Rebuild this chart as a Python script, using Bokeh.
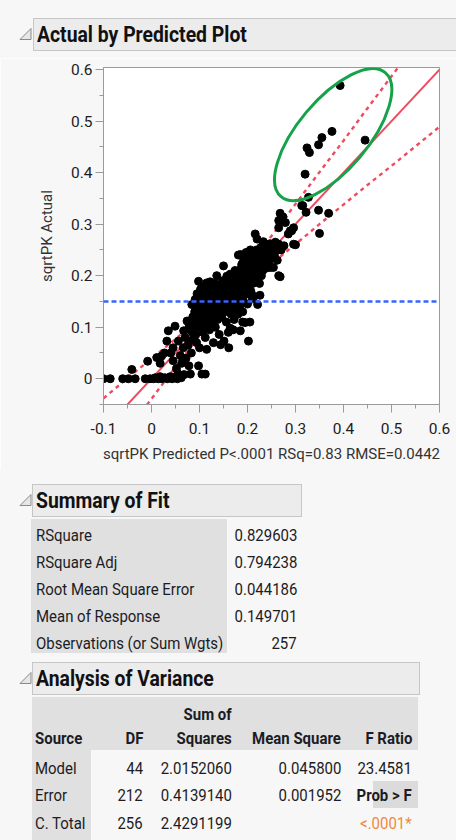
import html
from bokeh.plotting import figure
from bokeh.layouts import column
from bokeh.models import Range1d, FixedTicker, Span, Div
from bokeh.embed import file_html
from bokeh.resources import INLINE

# ---------------- data ----------------
PRED = [
    -0.100, -0.086, -0.060, -0.048, -0.034, -0.041, -0.013, -0.008, -0.003, 0.004,
    0.008, 0.014, 0.018, 0.022, 0.028, 0.033, 0.039, 0.043, 0.049, 0.054,
    0.058, 0.062, 0.068, 0.081, 0.105, 0.112, 0.098,
    0.011, 0.021, 0.018, 0.027, 0.032, 0.035, 0.049, 0.045, 0.052, 0.056,
    0.060, 0.063, 0.066, 0.067, 0.070, 0.072, 0.074, 0.076, 0.078, 0.080,
    0.083, 0.085,
    0.084, 0.086, 0.088, 0.090, 0.091, 0.092, 0.094, 0.096, 0.098, 0.099,
    0.100, 0.102, 0.103, 0.104, 0.106, 0.107, 0.108, 0.110, 0.111, 0.112,
    0.113, 0.114, 0.115, 0.115, 0.116, 0.118, 0.119, 0.120, 0.121, 0.122,
    0.124, 0.125, 0.126, 0.127, 0.128, 0.129, 0.130, 0.094, 0.100,
    0.131, 0.132, 0.133, 0.134, 0.135, 0.136, 0.137, 0.138, 0.139, 0.140,
    0.141, 0.142, 0.143, 0.144, 0.145, 0.146, 0.147, 0.148, 0.149, 0.150,
    0.151, 0.151, 0.152, 0.153, 0.154, 0.155, 0.156, 0.157, 0.158, 0.159,
    0.160, 0.161, 0.162, 0.163, 0.164, 0.164, 0.165, 0.166, 0.167, 0.168,
    0.169, 0.170, 0.171, 0.172, 0.173, 0.174, 0.175, 0.176, 0.177, 0.178,
    0.179,
    0.180, 0.181, 0.182, 0.183, 0.184, 0.185, 0.185, 0.186, 0.187, 0.188,
    0.189, 0.190, 0.191, 0.192, 0.193, 0.194, 0.195, 0.196, 0.197, 0.198,
    0.199, 0.200, 0.201, 0.202, 0.203, 0.204, 0.205, 0.206, 0.207, 0.208,
    0.209, 0.210, 0.211, 0.212, 0.213, 0.214, 0.215, 0.216, 0.217, 0.218,
    0.219, 0.220, 0.221, 0.222, 0.223, 0.224, 0.225, 0.226, 0.227, 0.228,
    0.229,
    0.230, 0.232, 0.233, 0.235, 0.237, 0.239, 0.240, 0.242, 0.244, 0.246,
    0.247, 0.248, 0.250, 0.252, 0.254, 0.256, 0.258, 0.260, 0.262, 0.265,
    0.265, 0.265, 0.265, 0.268, 0.268, 0.270, 0.274, 0.276, 0.279, 0.285,
    0.289, 0.292, 0.296, 0.296, 0.300,
    0.313, 0.315, 0.322, 0.327, 0.348, 0.369, 0.350, 0.320, 0.324, 0.329,
    0.348, 0.355, 0.376, 0.393, 0.445,
    0.078, 0.082, 0.085, 0.095, 0.105, 0.112, 0.122, 0.130, 0.160, 0.170,
    0.180, 0.190, 0.200, 0.210, 0.190, 0.205, 0.045, 0.040, 0.055, 0.065,
]
ACTUAL = [
    0.000, 0.000, 0.000, 0.000, 0.000, 0.018, 0.000, 0.034, 0.000, 0.000,
    0.002, 0.000, 0.004, 0.000, 0.002, 0.000, 0.004, 0.000, 0.003, 0.000,
    0.005, 0.002, 0.008, 0.009, 0.009, 0.009, 0.025,
    0.041, 0.044, 0.030, 0.050, 0.073, 0.093, 0.102, 0.035, 0.020, 0.073,
    0.045, 0.030, 0.060, 0.093, 0.080, 0.040, 0.112, 0.065, 0.025, 0.095,
    0.050, 0.075,
    0.144, 0.120, 0.105, 0.130, 0.154, 0.085, 0.115, 0.140, 0.189, 0.100,
    0.125, 0.173, 0.150, 0.110, 0.135, 0.090, 0.160, 0.120, 0.145, 0.080,
    0.100, 0.130, 0.186, 0.057, 0.165, 0.110, 0.140, 0.155, 0.095, 0.125,
    0.175, 0.145, 0.110, 0.160, 0.135, 0.070, 0.120, 0.070, 0.060,
    0.150, 0.185, 0.100, 0.165, 0.130, 0.200, 0.145, 0.115, 0.170, 0.155,
    0.086, 0.135, 0.180, 0.066, 0.150, 0.120, 0.165, 0.190, 0.140, 0.219,
    0.073, 0.155, 0.175, 0.130, 0.160, 0.145, 0.110, 0.199, 0.170, 0.150,
    0.185, 0.060, 0.140, 0.165, 0.098, 0.203, 0.155, 0.125, 0.180, 0.145,
    0.170, 0.190, 0.160, 0.115, 0.150, 0.210, 0.175, 0.135, 0.165, 0.195,
    0.155,
    0.180, 0.240, 0.160, 0.200, 0.140, 0.093, 0.241, 0.175, 0.215, 0.222,
    0.185, 0.155, 0.200, 0.230, 0.170, 0.210, 0.109, 0.190, 0.245, 0.165,
    0.220, 0.200, 0.180, 0.073, 0.235, 0.210, 0.190, 0.250, 0.170, 0.225,
    0.200, 0.215, 0.185, 0.240, 0.205, 0.160, 0.230, 0.281, 0.195, 0.215,
    0.250, 0.271, 0.144, 0.205, 0.225, 0.240, 0.185, 0.162, 0.220, 0.255,
    0.200,
    0.235, 0.210, 0.266, 0.245, 0.225, 0.255, 0.215, 0.240, 0.260, 0.230,
    0.262, 0.216, 0.245, 0.255, 0.216, 0.240, 0.265, 0.250, 0.230, 0.200,
    0.261, 0.293, 0.307, 0.198, 0.321, 0.250, 0.314, 0.258, 0.303, 0.281,
    0.287, 0.287, 0.261, 0.293, 0.260,
    0.336, 0.336, 0.323, 0.352, 0.327, 0.321, 0.282, 0.397, 0.448, 0.439,
    0.454, 0.468, 0.480, 0.569, 0.463,
    0.100, 0.112, 0.090, 0.165, 0.178, 0.170, 0.188, 0.178, 0.090, 0.095,
    0.125, 0.130, 0.145, 0.155, 0.110, 0.110, 0.060, 0.050, 0.010, 0.040,
]

FIT_X = [-0.1, 0.6]
FIT_Y = [-0.1, 0.6]
MEAN_RESPONSE = 0.149701

CURVE_X = [-0.10, -0.05, 0.00, 0.05, 0.10, 0.15, 0.20, 0.25, 0.30, 0.35,
           0.40, 0.45, 0.50, 0.55, 0.60]
CURVE_UPPER = [-0.038, 0.001, 0.039, 0.077, 0.117, 0.162, 0.217, 0.277, 0.339,
               0.401, 0.462, 0.525, 0.587, 0.649, 0.711]
CURVE_LOWER = [-0.162, -0.101, -0.039, 0.023, 0.083, 0.138, 0.183, 0.223, 0.261,
               0.300, 0.338, 0.376, 0.413, 0.451, 0.489]

X_TICKS = [-0.1, 0.0, 0.1, 0.2, 0.3, 0.4, 0.5, 0.6]
X_TICK_LABELS = ["-0.1", "0", "0.1", "0.2", "0.3", "0.4", "0.5", "0.6"]
X_MINOR = [-0.05, 0.05, 0.15, 0.25, 0.35, 0.45, 0.55]
Y_TICKS = [0.0, 0.1, 0.2, 0.3, 0.4, 0.5, 0.6]
Y_TICK_LABELS = ["0", "0.1", "0.2", "0.3", "0.4", "0.5", "0.6"]
Y_MINOR = [-0.05, 0.05, 0.15, 0.25, 0.35, 0.45, 0.55]

X_LABEL = "sqrtPK Predicted P<.0001 RSq=0.83 RMSE=0.0442"
Y_LABEL = "sqrtPK Actual"

# highlight ellipse annotation (centre in data units, size in screen px)
ELLIPSE_X, ELLIPSE_Y = 0.3785, 0.4737
ELLIPSE_W, ELLIPSE_H, ELLIPSE_ANGLE = 162, 70, 50

FIT_LABELS = ["RSquare", "RSquare Adj", "Root Mean Square Error",
              "Mean of Response", "Observations (or Sum Wgts)"]
FIT_VALUES = ["0.829603", "0.794238", "0.044186", "0.149701", "257"]

ANOVA_HEAD = ["Source", "DF", "Squares", "Mean Square", "F Ratio"]
ANOVA_SOURCE = ["Model", "Error", "C. Total"]
ANOVA_DF = ["44", "212", "256"]
ANOVA_SS = ["2.0152060", "0.4139140", "2.4291199"]
ANOVA_MS = ["0.045800", "0.001952", ""]
ANOVA_F = ["23.4581", "", ""]
PROB_LABEL = "Prob > F"
PROB_VALUE = "<.0001*"

# ---------------- styling ----------------
FONT = "Roboto"
BG = "#f7f7f7"
HEAD_FILL = "#ececec"
HEAD_LINE = "#c6c6c6"
CELL_GRAY = "#e0e0e0"
TXT = "#1c1c24"
RED = "#f04a5e"
BLUE = "#3366ff"
GREEN = "#15a24a"
W = 456


# ---------------- HTML helpers for the report panels ----------------
def box(l, t, w, h, bg, border=None):
    b = f"border:1px solid {border};" if border else ""
    return (f'<div style="position:absolute;left:{l}px;top:{t}px;width:{w}px;'
            f'height:{h}px;background:{bg};{b}box-sizing:border-box"></div>')


def label(x, yc, s, align="left", bold=False, color=TXT, size=17, sx=0.88):
    h = 24
    if align == "left":
        pos, origin = f"left:{x}px;", "left center"
    else:
        pos, origin = f"right:{W - x}px;", "right center"
    fw = "bold" if bold else "normal"
    return (f'<div style="position:absolute;{pos}top:{yc - h / 2}px;height:{h}px;'
            f'line-height:{h}px;font-size:{size}px;font-weight:{fw};color:{color};'
            f'white-space:nowrap;transform:scaleX({sx});transform-origin:{origin}">'
            f'{html.escape(s)}</div>')


def header(l, r, t, b, title):
    mid = (t + b) / 2
    tri = (f'<svg style="position:absolute;left:0;top:0" width="40" height="{b + 2}">'
           f'<polygon points="31,{mid - 6} 31,{mid + 5} 20,{mid + 5}" fill="#e6e6e6" '
           f'stroke="#8a8a8a" stroke-width="1"/></svg>')
    return (tri + box(l, t, r - l, b - t, HEAD_FILL, HEAD_LINE)
            + label(l + 4, mid, title, bold=True, color="#111111", size=22, sx=0.88))


def panel(height, inner):
    return (f'<div style="position:relative;width:{W}px;height:{height}px;'
            f'background:{BG};overflow:hidden;font-family:{FONT},sans-serif">'
            f'{inner}</div>')


# header of the plot (page y 0..58)
h1 = Div(text=panel(58, header(33, 470, 18, 51, "Actual by Predicted Plot")),
         width=W, height=58, margin=0)

# ---------------- plot (page y 58..470) ----------------
p = figure(width=W, height=412, x_range=Range1d(-0.1, 0.6),
           y_range=Range1d(-0.05, 0.604), output_backend="svg",
           toolbar_location=None, min_border_left=103, min_border_right=17,
           min_border_top=9, min_border_bottom=66)
p.grid.visible = False
p.background_fill_color = "white"
p.border_fill_color = BG
p.outline_line_color = "#9a9a9a"

for ax in (p.xaxis[0], p.yaxis[0]):
    ax.axis_line_color = "#9a9a9a"
    ax.major_tick_line_color = "#9a9a9a"
    ax.minor_tick_line_color = "#9a9a9a"
    ax.major_tick_in = 0
    ax.major_tick_out = 8
    ax.minor_tick_in = 0
    ax.minor_tick_out = 4
    ax.major_label_text_font = FONT
    ax.major_label_text_font_size = "15.5px"
    ax.major_label_text_color = TXT
    ax.axis_label_text_font = FONT
    ax.axis_label_text_font_size = "15px"
    ax.axis_label_text_font_style = "normal"
    ax.axis_label_text_color = "#333333"

p.xaxis.ticker = FixedTicker(ticks=X_TICKS, minor_ticks=X_MINOR)
p.yaxis.ticker = FixedTicker(ticks=Y_TICKS, minor_ticks=Y_MINOR)
p.xaxis.major_label_overrides = dict(zip(X_TICKS, X_TICK_LABELS))
p.yaxis.major_label_overrides = dict(zip(Y_TICKS, Y_TICK_LABELS))
p.xaxis.axis_label = X_LABEL
p.yaxis.axis_label = Y_LABEL
p.xaxis.major_label_standoff = 10
p.yaxis.major_label_standoff = 3
p.xaxis.axis_label_standoff = 8
p.yaxis.axis_label_standoff = 12

p.line(CURVE_X, CURVE_UPPER, line_color=RED, line_width=2.4, line_dash="4 4")
p.line(CURVE_X, CURVE_LOWER, line_color=RED, line_width=2.4, line_dash="4 4")
p.line(FIT_X, FIT_Y, line_color=RED, line_width=2)
p.add_layout(Span(location=MEAN_RESPONSE, dimension="width", line_color=BLUE,
                  line_width=2.5, line_dash="5 3"))
p.scatter(PRED, ACTUAL, size=8, fill_color="black", line_color="black")
p.ellipse(x=[ELLIPSE_X], y=[ELLIPSE_Y], width=ELLIPSE_W, height=ELLIPSE_H,
          angle=ELLIPSE_ANGLE, angle_units="deg", width_units="screen",
          height_units="screen", fill_color=None, line_color=GREEN, line_width=3)

# ---------------- report tables (page y 470..840) ----------------
O = 470  # vertical offset of this panel
parts = []
# Summary of Fit
parts.append(header(32, 302, 484 - O, 517 - O, "Summary of Fit"))
parts.append(box(31, 519 - O, 196, 134, CELL_GRAY))
for i, (lab, val) in enumerate(zip(FIT_LABELS, FIT_VALUES)):
    yc = 535 + 27 * i - O
    parts.append(label(36, yc, lab))
    parts.append(label(297, yc, val, align="right"))

# Analysis of Variance
parts.append(header(32, 420, 662 - O, 695 - O, "Analysis of Variance"))
parts.append(box(32, 697 - O, 386, 53, CELL_GRAY))
parts.append(box(32, 750 - O, 59, 100, CELL_GRAY))
parts.append(box(373, 781 - O, 45, 27, "#dbdbdb"))
parts.append(label(232, 714 - O, "Sum of", align="right", bold=True))
parts.append(label(35, 738 - O, ANOVA_HEAD[0], bold=True))
for x, s in zip([143, 232, 341, 412], ANOVA_HEAD[1:]):
    parts.append(label(x, 738 - O, s, align="right", bold=True))
for i, yc in enumerate([768, 795, 823]):
    yc -= O
    parts.append(label(35, yc, ANOVA_SOURCE[i]))
    parts.append(label(143, yc, ANOVA_DF[i], align="right"))
    parts.append(label(232, yc, ANOVA_SS[i], align="right"))
    if ANOVA_MS[i]:
        parts.append(label(341, yc, ANOVA_MS[i], align="right"))
    if ANOVA_F[i]:
        parts.append(label(412, yc, ANOVA_F[i], align="right"))
parts.append(label(412, 795 - O, PROB_LABEL, align="right", bold=True))
parts.append(label(412, 823 - O, PROB_VALUE, align="right", color="#f08a3c"))

tables = Div(text=panel(370, "".join(parts)), width=W, height=370, margin=0)

layout = column(h1, p, tables, spacing=0)
open("out.html", "w").write(file_html(layout, INLINE))
